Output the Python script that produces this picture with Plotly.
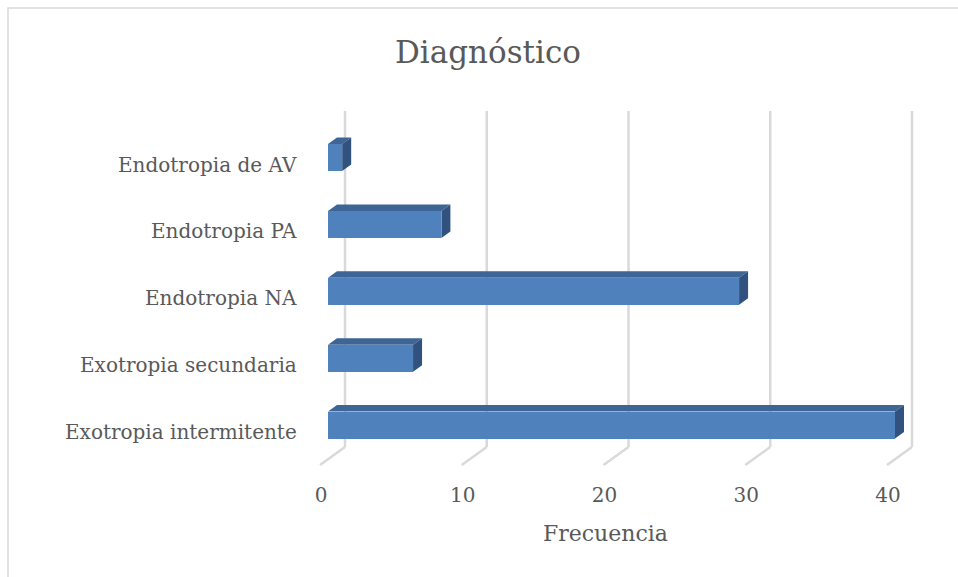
import plotly.graph_objects as go

# Diagnoses (bottom to top) and their frequency
categories = ["Exotropia intermitente", "Exotropia secundaria", "Endotropia NA",
              "Endotropia PA", "Endotropia de AV"]
values = [40, 6, 29, 8, 1]
x_ticks = [0, 10, 20, 30, 40]

W, H = 958, 577
FONT = "DejaVu Serif"
TXT = "#595959"
GRID = "#d9d9d9"
FRONT, TOP, SIDE = "#4F81BD", "#3D6596", "#31527F"

# plot area in pixels and axis scaling
L, R, T, B = 300, 940, 100, 480
PX_X = 14.175          # pixels per unit of frequency
PX_Y = 66.875          # pixels per category step
X0_PX = 328            # pixel column of value 0 on the bar fronts
Y0_PX = 425            # pixel row of the first category centre

x_min = -(X0_PX - L) / PX_X
x_max = x_min + (R - L) / PX_X
y_min = -(B - Y0_PX) / PX_Y
y_max = (Y0_PX - T) / PX_Y

def ux(px):
    return px / PX_X

def uy(px):
    return px / PX_Y

bar_w = uy(27)
ys = list(range(len(categories)))

fig = go.Figure()
fig.add_trace(go.Bar(
    x=values, y=ys, base=0, orientation="h", width=bar_w,
    marker=dict(color=FRONT, line=dict(width=0)), hoverinfo="x+y",
))

shapes = []

# back wall gridlines and floor diagonals (3-D depth offset)
wall_dx, floor_dx = ux(17), ux(25)
y_wall_bottom = -uy(447 - Y0_PX)
y_floor_front = -uy(465 - Y0_PX)
y_wall_top = uy(Y0_PX - 111)
for v in x_ticks:
    xb = v + wall_dx
    shapes.append(dict(type="line", xref="x", yref="y", layer="below",
                       x0=xb, x1=xb, y0=y_wall_bottom, y1=y_wall_top,
                       line=dict(color=GRID, width=2.5)))
    shapes.append(dict(type="line", xref="x", yref="y", layer="below",
                       x0=xb, x1=xb - floor_dx, y0=y_wall_bottom, y1=y_floor_front,
                       line=dict(color=GRID, width=2.5)))

# top and end faces of each bar
ddx, ddy = ux(9), uy(6.5)
for y, v in zip(ys, values):
    yt, yb = y + bar_w / 2, y - bar_w / 2
    shapes.append(dict(
        type="path", xref="x", yref="y", fillcolor=TOP, line=dict(width=0),
        path=f"M 0,{yt} L {v},{yt} L {v + ddx},{yt + ddy} L {ddx},{yt + ddy} Z"))
    shapes.append(dict(
        type="path", xref="x", yref="y", fillcolor=SIDE, line=dict(width=0),
        path=f"M {v},{yt} L {v + ddx},{yt + ddy} L {v + ddx},{yb + ddy} L {v},{yb} Z"))

# chart border
shapes.append(dict(type="rect", xref="paper", yref="paper",
                   x0=(8 - L) / (R - L), x1=(W + 5 - L) / (R - L),
                   y0=-(H + 5 - B) / (B - T), y1=(B - 8) / (B - T),
                   line=dict(color=GRID, width=1.5), layer="below"))

# category labels, centred a little below each bar (3-D depth)
annotations = [dict(text=c, xref="paper", yref="y", x=0, xshift=-1, y=y, yshift=-7,
                    xanchor="right", yanchor="middle", showarrow=False,
                    font=dict(size=20, color=TXT, family=FONT))
               for c, y in zip(categories, ys)]
annotations.append(dict(text="Frecuencia", xref="x", yref="paper",
                        x=20, xshift=-6, y=-(533 - B) / (B - T),
                        xanchor="center", yanchor="middle", showarrow=False,
                        font=dict(size=22, color=TXT, family=FONT)))

fig.update_layout(
    width=W, height=H,
    margin=dict(l=L, r=W - R, t=T, b=H - B, pad=0),
    paper_bgcolor="white", plot_bgcolor="white",
    showlegend=False, bargap=0,
    shapes=shapes,
    font=dict(family=FONT, color=TXT, size=20),
    title=dict(text="Diagnóstico", x=488 / W, y=1 - 52 / H,
               xref="container", yref="container",
               xanchor="center", yanchor="middle",
               font=dict(family=FONT, size=31, color=TXT)),
    xaxis=dict(range=[x_min, x_max], showgrid=False, zeroline=False,
               showline=False, ticks="", tickvals=x_ticks,
               ticktext=[str(v) for v in x_ticks],
               ticklabelshift=-7, ticklabelstandoff=1,
               tickfont=dict(size=20, color=TXT)),
    yaxis=dict(range=[y_min, y_max], showgrid=False, zeroline=False,
               showline=False, showticklabels=False, ticks=""),
    annotations=annotations,
)

fig.write_html("out.html")
